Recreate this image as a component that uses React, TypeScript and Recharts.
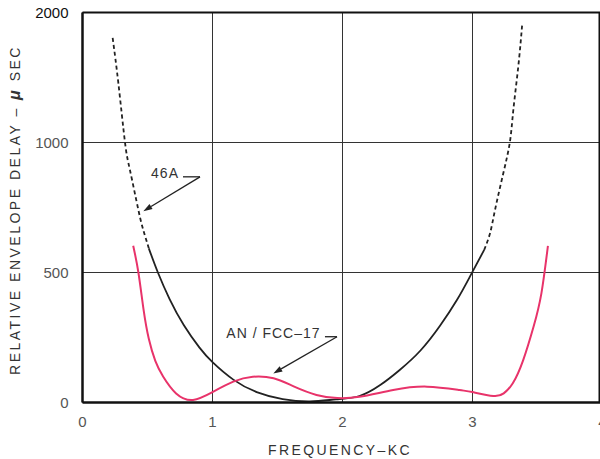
import {
  LineChart,
  Line,
  XAxis,
  YAxis,
  CartesianGrid,
  ReferenceLine,
  ReferenceDot,
} from "recharts";

// frequency (kc) and relative envelope delay (microseconds)
const fccX = [0.39, 0.43, 0.47, 0.51, 0.56, 0.62, 0.72, 0.85, 1.0, 1.16, 1.31, 1.47, 1.62, 1.8, 1.96, 2.13, 2.39, 2.65, 2.9, 3.0, 3.16, 3.24, 3.31, 3.39, 3.47, 3.53, 3.58];
const fccDelay = [603, 500, 356, 245, 160, 100, 35, 10, 40, 80, 99, 93, 63, 29, 17, 22, 48, 61, 48, 40, 25, 35, 74, 163, 292, 420, 602];

const a46LeftX = [0.232, 0.276, 0.327, 0.365, 0.43, 0.468, 0.51];
const a46LeftDelay = [1804, 1455, 1000, 894, 740, 663, 593];

const a46X = [0.51, 0.58, 0.67, 0.78, 0.9, 1.0, 1.16, 1.34, 1.54, 1.75, 1.95, 2.13, 2.29, 2.44, 2.6, 2.75, 2.88, 2.98, 3.09];
const a46Delay = [593, 500, 398, 297, 211, 155, 88, 40, 13, 4, 12, 25, 67, 125, 200, 295, 394, 484, 587];

const a46RightX = [3.09, 3.135, 3.173, 3.237, 3.288, 3.314, 3.352, 3.383];
const a46RightDelay = [587, 651, 740, 882, 1006, 1250, 1583, 1917];

const xTicks = [0, 1, 2, 3, 4];
const yTickValues = [0, 500, 1000, 2000];

// the delay axis is stretched: 0-500-1000-2000 are equally spaced
const toAxis = (v: number) =>
  v <= 500 ? v / 500 : v <= 1000 ? 1 + (v - 500) / 500 : 2 + (v - 1000) / 1000;

const build = (xs: number[], vs: number[]) => xs.map((x, i) => ({ x, y: toAxis(vs[i]) }));

const fccData = build(fccX, fccDelay);
const a46LeftData = build(a46LeftX, a46LeftDelay);
const a46Data = build(a46X, a46Delay);
const a46RightData = build(a46RightX, a46RightDelay);
const yTicks = yTickValues.map(toAxis);

const font = "'Liberation Sans', Arial, sans-serif";
const ink = "#222";

function ArrowShape(props: any) {
  const { x1, y1, x2, y2 } = props;
  const ang = Math.atan2(y2 - y1, x2 - x1);
  const len = 9;
  const w = 3;
  const bx = x2 - len * Math.cos(ang);
  const by = y2 - len * Math.sin(ang);
  const px = -Math.sin(ang) * w;
  const py = Math.cos(ang) * w;
  return (
    <g>
      <line x1={x1} y1={y1} x2={bx} y2={by} stroke={ink} strokeWidth={1.3} />
      <polygon points={`${x2},${y2} ${bx + px},${by + py} ${bx - px},${by - py}`} fill={ink} />
    </g>
  );
}

function TextLabel({ viewBox, text }: any) {
  const cx = viewBox.x + (viewBox.width || 0) / 2;
  const cy = viewBox.y + (viewBox.height || 0) / 2;
  return (
    <text x={cx} y={cy} dy="0.35em" textAnchor="middle" fill="#333" fontSize={14} fontFamily={font} letterSpacing={1}>
      {text}
    </text>
  );
}

function YTick({ x, y, payload }: any) {
  const idx = yTicks.indexOf(payload.value);
  const label = idx >= 0 ? String(yTickValues[idx]) : "";
  return (
    <text x={x} y={y} dy="0.35em" textAnchor="end" fill={idx === 3 ? "#111" : "#555"} fontSize={15} fontFamily={font}>
      {label}
    </text>
  );
}

function YLabel({ viewBox }: any) {
  const cx = viewBox.x + 15;
  const cy = 210;
  return (
    <text
      x={cx}
      y={cy}
      transform={`rotate(-90 ${cx} ${cy})`}
      dy="0.35em"
      textAnchor="middle"
      fill="#333"
      fontSize={14}
      fontFamily={font}
      letterSpacing={2.5}
    >
      RELATIVE ENVELOPE DELAY –{" "}
      <tspan fontWeight="bold" fontStyle="italic" fontSize={16}>μ</tspan> SEC
    </text>
  );
}

function XLabel({ viewBox }: any) {
  return (
    <text x={340} y={viewBox.y + 48} dy="0.35em" textAnchor="middle" fill="#333" fontSize={14} fontFamily={font} letterSpacing={2.4}>
      FREQUENCY–KC
    </text>
  );
}

export default function App() {
  return (
    <div style={{ position: "absolute", left: 0, top: 0, width: 600, height: 459, overflow: "hidden", background: "#fff" }}>
      <LineChart width={610} height={459} margin={{ top: 12.5, right: 7.5, bottom: 0, left: 0 }}>
        <CartesianGrid stroke="#333" strokeWidth={1} />
        <XAxis
          type="number"
          dataKey="x"
          domain={[0, 4]}
          ticks={xTicks}
          height={56.5}
          tickLine={false}
          tickSize={0}
          tickMargin={13.5}
          axisLine={{ stroke: "#111", strokeWidth: 2.5 }}
          tick={{ fill: "#555", fontSize: 15, fontFamily: font }}
          label={<XLabel />}
          allowDataOverflow
        />
        <YAxis
          type="number"
          domain={[0, 3]}
          ticks={yTicks}
          width={82.5}
          tickLine={false}
          tickSize={0}
          tickMargin={14}
          axisLine={{ stroke: "#111", strokeWidth: 2.5 }}
          tick={<YTick />}
          label={<YLabel />}
          allowDataOverflow
        />
        <ReferenceLine y={3} stroke="#111" strokeWidth={2} />
        <ReferenceLine x={3.975} stroke="#111" strokeWidth={1.5} />

        <Line data={a46LeftData} dataKey="y" type="natural" stroke={ink} strokeWidth={1.8} strokeDasharray="4 3" dot={false} isAnimationActive={false} />
        <Line data={a46Data} dataKey="y" type="natural" stroke={ink} strokeWidth={1.8} dot={false} isAnimationActive={false} />
        <Line data={a46RightData} dataKey="y" type="natural" stroke={ink} strokeWidth={1.8} strokeDasharray="4 3" dot={false} isAnimationActive={false} />
        <Line data={fccData} dataKey="y" type="natural" stroke="#e8336a" strokeWidth={2} dot={false} isAnimationActive={false} />

        <ReferenceLine segment={[{ x: 0.773, y: toAxis(868) }, { x: 0.904, y: toAxis(868) }]} stroke={ink} strokeWidth={1.3} />
        <ReferenceLine segment={[{ x: 0.904, y: toAxis(868) }, { x: 0.468, y: toAxis(736) }]} shape={<ArrowShape />} />
        <ReferenceDot x={0.635} y={toAxis(884)} r={0} fill="none" stroke="none" label={<TextLabel text="46A" />} />

        <ReferenceLine segment={[{ x: 1.865, y: toAxis(253) }, { x: 1.958, y: toAxis(253) }]} stroke={ink} strokeWidth={1.3} />
        <ReferenceLine segment={[{ x: 1.958, y: toAxis(253) }, { x: 1.468, y: toAxis(112) }]} shape={<ArrowShape />} />
        <ReferenceDot x={1.469} y={toAxis(268)} r={0} fill="none" stroke="none" label={<TextLabel text="AN / FCC–17" />} />
      </LineChart>
    </div>
  );
}
